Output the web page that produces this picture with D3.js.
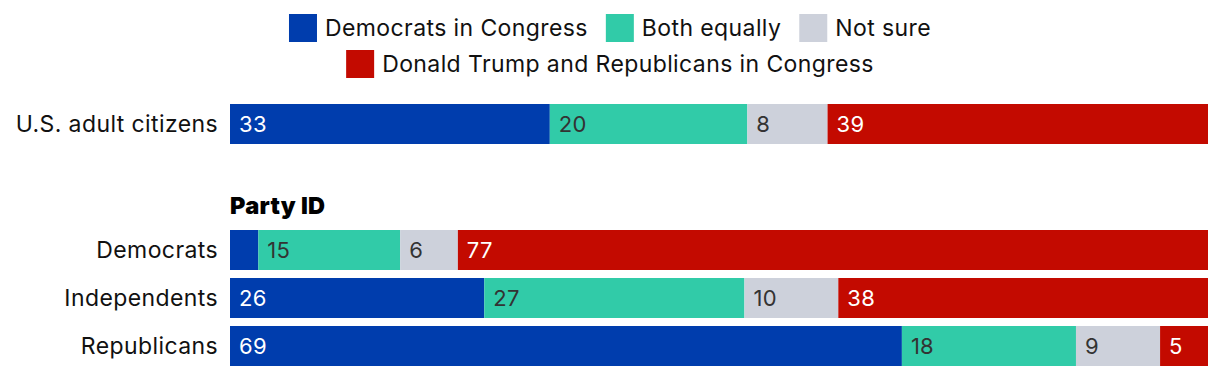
<!DOCTYPE html>
<html>
<head>
<meta charset="utf-8">
<script src="https://cdn.jsdelivr.net/npm/d3@7"></script>
<style>
  html, body { margin: 0; padding: 0; background: #fff; }
  svg { display: block; font-family: Inter, "Noto Sans", sans-serif; }
</style>
</head>
<body>
<svg id="chart" width="1220" height="378"></svg>
<script>
const seriesKeys = ["dem", "both", "notsure", "rep"];
const seriesNames = ["Democrats in Congress", "Both equally", "Not sure", "Donald Trump and Republicans in Congress"];
const seriesColors = ["#003dad", "#31cba8", "#cdd1db", "#c30a00"];
const labelColors = ["#ffffff", "#333333", "#333333", "#ffffff"];

const topCategories = ["U.S. adult citizens"];
const groupTitle = "Party ID";
const groupCategories = ["Democrats", "Independents", "Republicans"];

const demValues = [32.7, 2.9, 26.0, 68.7];
const bothValues = [20.2, 14.5, 26.6, 17.8];
const notSureValues = [8.2, 5.9, 9.6, 8.6];
const repValues = [38.9, 76.7, 37.8, 4.9];

const allCategories = topCategories.concat(groupCategories);
const rows = allCategories.map((c, i) => ({
  category: c,
  dem: demValues[i], both: bothValues[i], notsure: notSureValues[i], rep: repValues[i]
}));

const svg = d3.select("#chart");

const x = d3.scaleLinear().domain([0, 100]).range([230, 1208]);
const yTop = d3.scaleBand().domain(topCategories).range([104, 144]).paddingInner(0).paddingOuter(0);
const yGroup = d3.scaleBand().domain(groupCategories).range([230, 366]).paddingInner(1/6).paddingOuter(0);
const yPos = c => topCategories.includes(c) ? yTop(c) : yGroup(c);
const bw = yTop.bandwidth();

const stack = d3.stack().keys(seriesKeys);
const stacked = stack(rows);

const layers = svg.append("g").selectAll("g").data(stacked).join("g")
  .attr("fill", (d, i) => seriesColors[i]);

layers.selectAll("rect").data(d => d).join("rect")
  .attr("x", d => x(d[0]))
  .attr("width", d => x(d[1]) - x(d[0]))
  .attr("y", d => yPos(d.data.category))
  .attr("height", bw);

stacked.forEach((layer, li) => {
  svg.append("g").selectAll("text").data(layer.filter(d => x(d[1]) - x(d[0]) > 35)).join("text")
    .attr("x", d => x(d[0]) + 9)
    .attr("y", d => yPos(d.data.category) + bw / 2)
    .attr("dy", "0.36em")
    .attr("fill", labelColors[li])
    .attr("font-size", 22)
    .attr("letter-spacing", 0.3)
    .text(d => Math.round(d.data[seriesKeys[li]]));
});

// category labels
svg.append("g").selectAll("text").data(allCategories).join("text")
  .attr("x", 218)
  .attr("y", c => yPos(c) + bw / 2)
  .attr("dy", "0.36em")
  .attr("text-anchor", "end")
  .attr("fill", "#111")
  .attr("font-size", 23)
  .attr("letter-spacing", 0.4)
  .text(c => c);

// group title
svg.append("text")
  .attr("x", 230)
  .attr("y", 214)
  .attr("font-size", 23.5)
  .attr("font-weight", 900)
  .attr("letter-spacing", 0.3)
  .attr("fill", "#000")
  .text(groupTitle);

// legend
const legendRows = [[0, 1, 2], [3]];
const legendY = [14, 50];
const sq = 28, gapText = 8, gapItem = 18;
legendRows.forEach((idxs, r) => {
  const g = svg.append("g");
  let cx = 0;
  idxs.forEach(i => {
    g.append("rect").attr("x", cx).attr("y", 0).attr("width", sq).attr("height", sq).attr("fill", seriesColors[i]);
    const t = g.append("text").attr("x", cx + sq + gapText).attr("y", sq / 2).attr("dy", "0.36em")
      .attr("font-size", 23).attr("letter-spacing", 0.4).attr("fill", "#111").text(seriesNames[i]);
    cx += sq + gapText + t.node().getComputedTextLength() + gapItem;
  });
  const total = cx - gapItem;
  g.attr("transform", `translate(${(1220 - total) / 2},${legendY[r]})`);
});
</script>
</body>
</html>
